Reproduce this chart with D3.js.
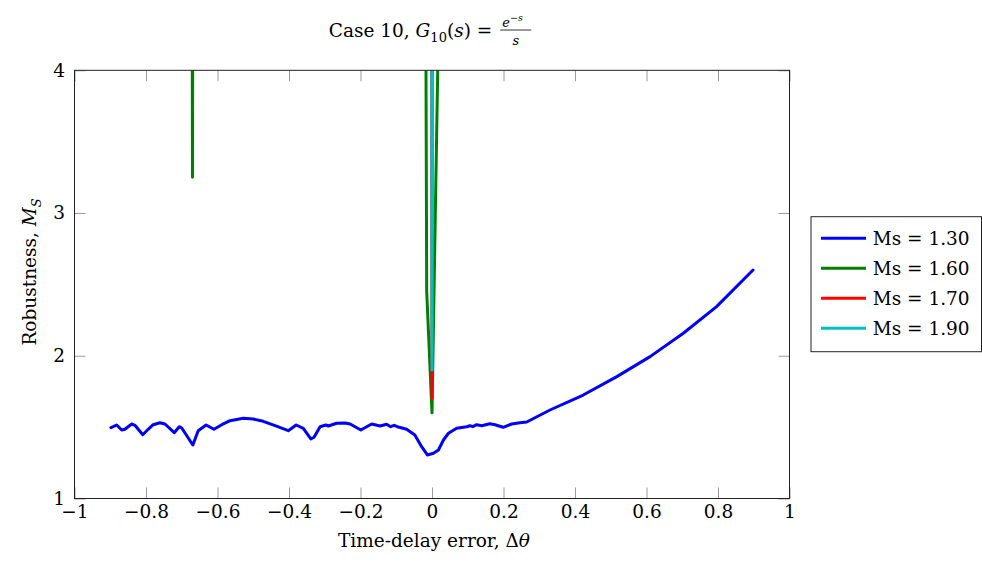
<!DOCTYPE html>
<html><head><meta charset="utf-8">
<script src="https://cdn.jsdelivr.net/npm/d3@7"></script>
<style>
body{margin:0;background:#fff}
text{font-family:"DejaVu Serif",serif;fill:#000}
</style>
</head><body>
<svg id="c" width="982" height="564"></svg>
<script>
// ---- data ----
const blueX = [-0.898,-0.882,-0.868,-0.859,-0.840,-0.831,-0.809,-0.794,-0.780,-0.761,-0.747,-0.721,-0.707,-0.700,-0.669,-0.654,-0.632,-0.610,-0.588,-0.565,-0.528,-0.500,-0.472,-0.439,-0.402,-0.380,-0.360,-0.339,-0.330,-0.313,-0.297,-0.290,-0.267,-0.243,-0.229,-0.199,-0.169,-0.145,-0.127,-0.116,-0.106,-0.097,-0.071,-0.048,-0.029,-0.013,0.004,0.018,0.032,0.046,0.069,0.097,0.106,0.114,0.125,0.139,0.162,0.176,0.199,0.223,0.246,0.265,0.330,0.423,0.517,0.610,0.703,0.796,0.898];
const blueY = [1.496,1.515,1.480,1.485,1.522,1.513,1.447,1.485,1.517,1.531,1.522,1.461,1.503,1.494,1.375,1.475,1.515,1.485,1.517,1.545,1.562,1.557,1.541,1.510,1.475,1.515,1.492,1.417,1.429,1.503,1.515,1.508,1.527,1.529,1.522,1.480,1.522,1.508,1.520,1.503,1.513,1.503,1.485,1.445,1.363,1.305,1.317,1.340,1.410,1.457,1.492,1.503,1.510,1.503,1.517,1.510,1.524,1.517,1.499,1.522,1.531,1.536,1.620,1.725,1.854,1.994,2.158,2.344,2.601];
const greenX = [-0.6705,-0.6700,-0.6695,null,-0.0168,-0.0148,0,0.016];
const greenY = [4,3.25,4,null,4,2.45,1.60,4];
const redX = [-0.0006,0,0.0006];
const redY = [4,1.70,4];
const cyanX = [-0.0006,0,0.0006];
const cyanY = [4,1.90,4];
const seriesNames = ["Ms = 1.30","Ms = 1.60","Ms = 1.70","Ms = 1.90"];
const seriesColors = ["#0000ff","#008000","#ff0000","#00c0c0"];
const xTicks = [-1,-0.8,-0.6,-0.4,-0.2,0,0.2,0.4,0.6,0.8,1];
const yTicks = [1,2,3,4];

// ---- layout ----
const svg = d3.select("#c");
const L = 74.5, R = 789.5, T = 70.3, B = 498.5;
const x = d3.scaleLinear().domain([-1,1]).range([L,R]);
const y = d3.scaleLinear().domain([1,4]).range([B,T]);
const fmt = v => (v<0?"\u2212":"") + String(Math.abs(Math.round(v*10)/10));
const FS = 18.5;

// ticks
const tickStyle = g => { g.select(".domain").remove(); g.selectAll(".tick line").attr("stroke","#9a9a9a").attr("stroke-width",1); g.selectAll("text").style("font-size",FS+"px").style("font-family","DejaVu Serif"); };
svg.append("g").attr("transform",`translate(0,${B})`)
  .call(d3.axisBottom(x).tickValues(xTicks).tickFormat(fmt).tickSize(-11).tickPadding(6)).call(tickStyle);
svg.append("g").attr("transform",`translate(0,${T})`)
  .call(d3.axisTop(x).tickValues(xTicks).tickFormat("").tickSize(-11)).call(tickStyle);
svg.append("g").attr("transform",`translate(${L},0)`)
  .call(d3.axisLeft(y).tickValues(yTicks).tickFormat(fmt).tickSize(-11).tickPadding(9.5)).call(tickStyle);
svg.append("g").attr("transform",`translate(${R},0)`)
  .call(d3.axisRight(y).tickValues(yTicks).tickFormat("").tickSize(-11)).call(tickStyle);
svg.selectAll("g text").attr("fill","#000");

// clip
svg.append("clipPath").attr("id","clip").append("rect").attr("x",L).attr("y",T).attr("width",R-L).attr("height",B-T);
const plot = svg.append("g").attr("clip-path","url(#clip)");
const line = d3.line().defined(d=>d[0]!==null).x(d=>x(d[0])).y(d=>y(d[1]));
const series = [[blueX,blueY],[greenX,greenY],[redX,redY],[cyanX,cyanY]];
series.forEach((s,i)=>{
  const pts = s[0].map((v,j)=>[v,s[1][j]]);
  plot.append("path").attr("d",line(pts)).attr("fill","none")
    .attr("stroke",seriesColors[i]).attr("stroke-width",3)
    .attr("stroke-linejoin","round").attr("stroke-linecap","round");
});

// frame
svg.append("rect").attr("x",L).attr("y",T).attr("width",R-L).attr("height",B-T)
  .attr("fill","none").attr("stroke","#222").attr("stroke-width",1);

// title
const title = svg.append("text").attr("y",36.5).style("font-size",FS+"px");
title.append("tspan").text("Case 10, ");
title.append("tspan").style("font-style","italic").text("G");
title.append("tspan").attr("dy",5).style("font-size","13px").text("10");
title.append("tspan").attr("dy",-5).text("(");
title.append("tspan").style("font-style","italic").text("s");
title.append("tspan").text(") =");
const tw = title.node().getComputedTextLength();
const fracW = 31, gap = 8;
const tx0 = 430 - (tw + gap + fracW)/2;
title.attr("x",tx0);
const fx = tx0 + tw + gap;
svg.append("line").attr("x1",fx).attr("x2",fx+fracW).attr("y1",30).attr("y2",30).attr("stroke","#000").attr("stroke-width",0.8);
const num = svg.append("text").attr("x",fx+2).attr("y",26.7).style("font-size","13px");
num.append("tspan").style("font-style","italic").text("e");
num.append("tspan").attr("dy",-6).style("font-size","9.5px").text("\u2212");
num.append("tspan").style("font-size","9.5px").style("font-style","italic").text("s");
svg.append("text").attr("x",fx+fracW/2).attr("y",44.5).attr("text-anchor","middle")
  .style("font-size","13px").style("font-style","italic").text("s");

// axis labels
const xl = svg.append("text").attr("x",434).attr("y",546.5).attr("text-anchor","middle").style("font-size",FS+"px");
xl.append("tspan").text("Time-delay error, \u0394");
xl.append("tspan").style("font-style","italic").text("\u03B8");
const yl = svg.append("text").attr("transform","translate(36,272) rotate(-90)").attr("text-anchor","middle").style("font-size",FS+"px");
yl.append("tspan").text("Robustness, ");
yl.append("tspan").style("font-style","italic").text("M");
yl.append("tspan").attr("dy",5).style("font-size","13px").style("font-style","italic").text("S");

// legend
const lg = svg.append("g");
lg.append("rect").attr("x",811).attr("y",216.7).attr("width",170.5).attr("height",135)
  .attr("fill","#fff").attr("stroke","#222").attr("stroke-width",1);
seriesNames.forEach((n,i)=>{
  const yy = 238.3 + i*30;
  lg.append("line").attr("x1",821).attr("x2",866).attr("y1",yy).attr("y2",yy)
    .attr("stroke",seriesColors[i]).attr("stroke-width",3);
  lg.append("text").attr("x",872.7).attr("y",yy).attr("dy","0.36em").style("font-size",FS+"px").text(n);
});
</script>
</body></html>
